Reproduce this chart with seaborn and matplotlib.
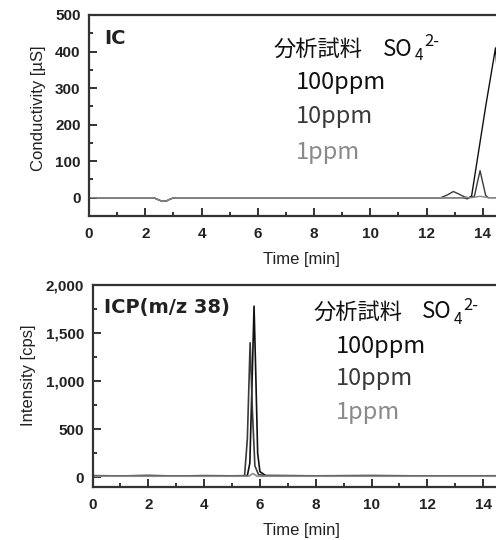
import numpy as np
import pandas as pd
import matplotlib
matplotlib.use("Agg")
import matplotlib.pyplot as plt
import seaborn as sns
from matplotlib.ticker import MultipleLocator, FuncFormatter

# ---------------- data ----------------
series_names = ["100ppm", "10ppm", "1ppm"]
series_colors = ["#111111", "#3a3a3a", "#8a8a8a"]

# IC chromatogram (Conductivity, µS)
ic_t_100 = [0, 2.3, 2.45, 2.6, 2.75, 2.9, 3.05, 13.3, 13.45, 13.6, 14.1, 14.45, 14.55, 14.7, 15]
ic_v_100 = [0, 0, -5, -10, -9, -3, 0, 0, -3, 5, 250, 410, 300, 80, 0]
ic_t_10 = [0, 2.3, 2.45, 2.6, 2.75, 2.9, 3.05, 12.5, 12.75, 12.95, 13.15, 13.35, 13.5,
           13.7, 13.8, 13.9, 14.0, 14.1, 14.2, 15]
ic_v_10 = [0, 0, -5, -10, -9, -3, 0, 0, 8, 17, 10, 2, 0, 4, 40, 74, 40, 6, 0, 0]
ic_t_1 = [0, 2.3, 2.45, 2.6, 2.75, 2.9, 3.05, 13.6, 13.9, 14.2, 15]
ic_v_1 = [0, 0, -5, -10, -9, -3, 0, 0, 4, 0, 0]

# ICP-MS chromatogram (m/z 38, cps)
icp_t_100 = [0, 1, 2, 3, 4, 5, 5.55, 5.64, 5.72, 5.79, 5.85, 5.92, 6.0, 6.2, 8, 10, 12, 15]
icp_v_100 = [18, 15, 20, 14, 18, 16, 18, 150, 1000, 1780, 1100, 250, 60, 20, 16, 19, 15, 17]
icp_t_10 = [0, 1.5, 3.5, 5.45, 5.55, 5.65, 5.73, 5.82, 5.95, 6.2, 9, 13, 15]
icp_v_10 = [14, 16, 13, 14, 400, 1400, 700, 120, 30, 16, 14, 15, 14]
icp_t_1 = [0, 5.6, 5.75, 5.9, 15]
icp_v_1 = [12, 12, 40, 12, 12]

def long_df(ts, vs):
    rows = []
    for name, t, v in zip(series_names, ts, vs):
        rows += [{"time": a, "value": b, "sample": name} for a, b in zip(t, v)]
    return pd.DataFrame(rows)

ic_df = long_df([ic_t_100, ic_t_10, ic_t_1], [ic_v_100, ic_v_10, ic_v_1])
icp_df = long_df([icp_t_100, icp_t_10, icp_t_1], [icp_v_100, icp_v_10, icp_v_1])

# ---------------- style ----------------
sns.set_theme(style="ticks")
plt.rcParams["font.family"] = ["Liberation Sans", "DejaVu Sans"]
plt.rcParams["axes.linewidth"] = 1.6
plt.rcParams["axes.edgecolor"] = "#333333"

W, H = 496, 540
fig = plt.figure(figsize=(W / 100, H / 100), dpi=100)

def px(x, y):
    return x / W, 1 - y / H

palette = dict(zip(series_names, series_colors))
jp = ["Noto Sans CJK JP", "DejaVu Sans"]
lab_font = ["Liberation Sans", "DejaVu Sans"]

def style_axes(ax, ymaj, ymin_, fmt):
    ax.set_xlim(0, 15)
    ax.xaxis.set_major_locator(MultipleLocator(2))
    ax.xaxis.set_minor_locator(MultipleLocator(1))
    ax.yaxis.set_major_locator(MultipleLocator(ymaj))
    ax.yaxis.set_minor_locator(MultipleLocator(ymin_))
    ax.yaxis.set_major_formatter(FuncFormatter(fmt))
    ax.tick_params(which="major", direction="in", length=6, width=1.4,
                   color="#333333", labelsize=11, labelcolor="#222222")
    ax.tick_params(which="minor", direction="in", length=3, width=1.4, color="#333333")
    ax.tick_params(axis="x", which="major", pad=8)
    ax.tick_params(axis="y", which="major", pad=6)
    for lab in ax.get_xticklabels() + ax.get_yticklabels():
        lab.set_fontweight("bold")
    ax.set_xlabel("")
    ax.set_ylabel("")
    ax.spines["right"].set_visible(False)

# ---------------- top: IC ----------------
ax1 = fig.add_axes([89 / W, 1 - 216 / H, 422 / W, 201 / H])
sns.lineplot(data=ic_df, x="time", y="value", hue="sample", palette=palette,
             linewidth=1.0, ax=ax1, legend=False, sort=False, estimator=None)
ax1.set_ylim(-50, 500)
style_axes(ax1, 100, 50, lambda v, p: f"{int(v)}")

# ---------------- bottom: ICP ----------------
ax2 = fig.add_axes([92.5 / W, 1 - 487 / H, 418.5 / W, 202 / H])
sns.lineplot(data=icp_df, x="time", y="value", hue="sample", palette=palette,
             linewidth=1.2, ax=ax2, legend=False, sort=False, estimator=None)
ax2.set_ylim(-100, 2000)
style_axes(ax2, 500, 250, lambda v, p: f"{int(v):,}")

# axis labels
fig.text(*px(301, 260), "Time [min]", fontsize=12, family=lab_font,
         ha="center", va="center", color="#222222")
fig.text(*px(301, 530), "Time [min]", fontsize=12, family=lab_font,
         ha="center", va="center", color="#222222")
fig.text(*px(39, 108), "Conductivity [µS]", fontsize=12, family=lab_font,
         rotation=90, ha="center", va="center", color="#222222")
fig.text(*px(28, 375), "Intensity [cps]", fontsize=12, family=lab_font,
         rotation=90, ha="center", va="center", color="#222222")

# ---------------- annotations ----------------
fig.text(*px(104, 38), "IC", fontsize=14, fontweight="bold", family=["DejaVu Sans"],
         va="center", ha="left", color="#222222")
fig.text(*px(104, 308), "ICP(m/z 38)", fontsize=14, fontweight="bold",
         family=["DejaVu Sans"], va="center", ha="left", color="#222222")

def sample_title(x0, yc):
    fig.text(*px(x0, yc), "分析試料", fontsize=16, family=jp, va="center",
             ha="left", color="#111111")
    fig.text(*px(x0 + 109, yc), "SO", fontsize=16, family=jp, va="center",
             ha="left", color="#111111")
    fig.text(*px(x0 + 141, yc + 7), "4", fontsize=11, family=jp, va="center",
             ha="left", color="#111111")
    fig.text(*px(x0 + 150, yc - 7), "2-", fontsize=12, family=jp, va="center",
             ha="left", color="#111111")

sample_title(274, 49)
sample_title(313, 312)

for name, col, y in zip(series_names, series_colors, [82, 117, 152]):
    fig.text(*px(296, y), name, fontsize=17, family=jp, va="center", ha="left",
             color=col)
for name, col, y in zip(series_names, series_colors, [346, 379, 413]):
    fig.text(*px(336, y), name, fontsize=17, family=jp, va="center", ha="left",
             color=col)

fig.savefig("out.png", dpi=100)
